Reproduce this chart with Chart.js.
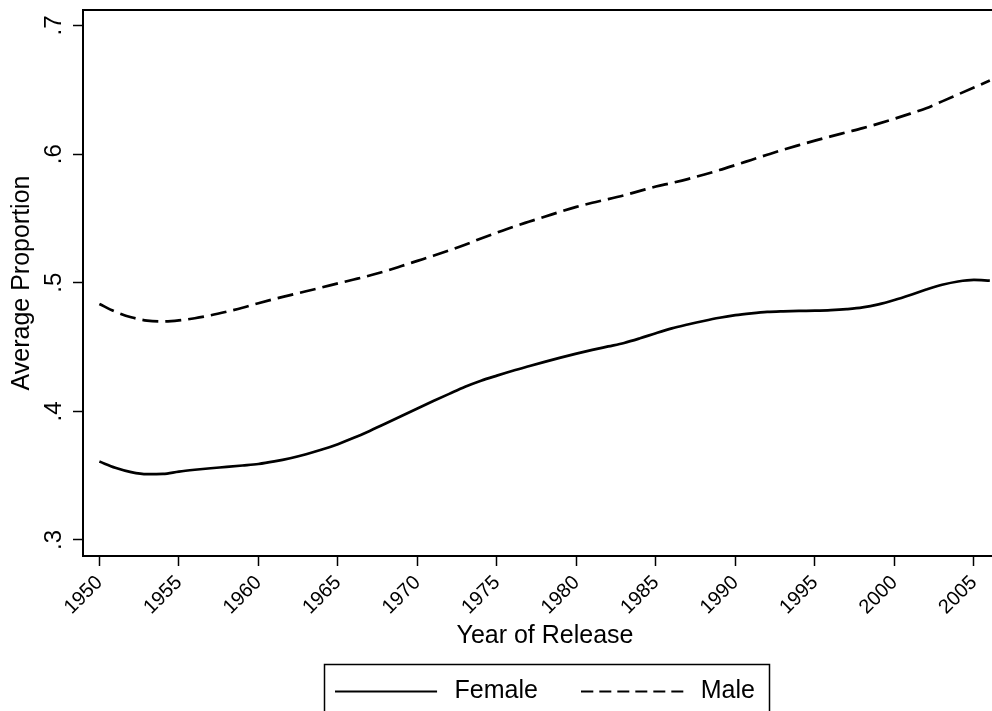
<!DOCTYPE html>
<html>
<head>
<meta charset="utf-8">
<script src="https://cdn.jsdelivr.net/npm/chart.js@4.4.1/dist/chart.umd.min.js"></script>
<style>
  html, body { margin: 0; padding: 0; background: #fff; overflow: hidden; width: 992px; height: 711px; }
  #wrap { position: absolute; left: 0; top: 0; width: 1012px; height: 740px; }
</style>
</head>
<body>
<div id="wrap"><canvas id="c" width="1012" height="740"></canvas></div>
<script>
// ---- data ----
const years = [1950,1951,1952,1953,1954,1955,1956,1957,1958,1959,
               1960,1961,1962,1963,1964,1965,1966,1967,1968,1969,
               1970,1971,1972,1973,1974,1975,1976,1977,1978,1979,
               1980,1981,1982,1983,1984,1985,1986,1987,1988,1989,
               1990,1991,1992,1993,1994,1995,1996,1997,1998,1999,
               2000,2001,2002,2003,2004,2005,2006];
const female = [0.3610,0.3562,0.3528,0.3512,0.3514,0.3532,0.3546,0.3558,0.3568,0.3579,
                0.3591,0.3611,0.3636,0.3667,0.3703,0.3745,0.3794,0.3848,0.3905,0.3964,
                0.4023,0.4080,0.4136,0.4191,0.4238,0.4278,0.4316,0.4351,0.4385,0.4418,
                0.4449,0.4478,0.4505,0.4532,0.4568,0.4608,0.4645,0.4675,0.4703,0.4728,
                0.4748,0.4762,0.4773,0.4778,0.4781,0.4783,0.4787,0.4795,0.4808,0.4832,
                0.4866,0.4905,0.4947,0.4984,0.5010,0.5022,0.5016];
const male = [0.4835,0.4775,0.4732,0.4706,0.4699,0.4707,0.4724,0.4747,0.4775,0.4806,
              0.4841,0.4874,0.4904,0.4934,0.4964,0.4995,0.5025,0.5056,0.5091,0.5130,
              0.5170,0.5210,0.5252,0.5296,0.5344,0.5390,0.5434,0.5474,0.5513,0.5553,
              0.5590,0.5622,0.5650,0.5680,0.5714,0.5748,0.5776,0.5806,0.5840,0.5876,
              0.5915,0.5955,0.5995,0.6034,0.6070,0.6105,0.6138,0.6170,0.6202,0.6237,
              0.6275,0.6315,0.6357,0.6410,0.6464,0.6518,0.6572];
const seriesNames = ['Female', 'Male'];
const xTicks = [1950,1955,1960,1965,1970,1975,1980,1985,1990,1995,2000,2005];
const yTicks = [0.3,0.4,0.5,0.6,0.7];
const xTitle = 'Year of Release';
const yTitle = 'Average Proportion';

// ---- chart ----
const FONT = "'Liberation Sans', Arial, sans-serif";
const toPts = vals => years.map((y, i) => ({x: y, y: vals[i]}));

// legend line samples (images used as legend point styles)
function sample(dash) {
  const c = document.createElement('canvas');
  c.width = 107; c.height = 6;
  const g = c.getContext('2d');
  g.strokeStyle = '#000';
  g.lineWidth = 2;
  g.setLineDash(dash);
  g.beginPath();
  g.moveTo(0, 3); g.lineTo(102, 3);
  g.stroke();
  return c;
}
const legendSamples = [sample([]), sample([12, 6])];

const framePlugin = {
  id: 'frame',
  afterDraw(chart) {
    const {ctx, chartArea: a, legend} = chart;
    ctx.save();
    ctx.strokeStyle = '#000';
    ctx.lineWidth = 2;
    ctx.beginPath();
    ctx.moveTo(a.left - 1, a.top);
    ctx.lineTo(a.right + 1, a.top);
    ctx.stroke();
    const hb = legend && legend.legendHitBoxes;
    if (hb && hb.length) {
      const first = hb[0], last = hb[hb.length - 1];
      const cy = first.top + first.height / 2;
      const l = Math.round(first.left - 11) + 0.5;
      const r = Math.round(last.left + last.width + 14) + 0.5;
      const t = Math.round(cy - 28) + 0.5;
      ctx.lineWidth = 1.5;
      ctx.beginPath();
      ctx.moveTo(l, chart.height + 5);
      ctx.lineTo(l, t);
      ctx.lineTo(r, t);
      ctx.lineTo(r, chart.height + 5);
      ctx.stroke();
    }
    ctx.restore();
  }
};

new Chart(document.getElementById('c'), {
  type: 'line',
  data: {
    datasets: [
      { label: seriesNames[0], data: toPts(female), borderColor: '#000', backgroundColor: '#000',
        borderWidth: 2.7, pointRadius: 0, cubicInterpolationMode: 'monotone', fill: false },
      { label: seriesNames[1], data: toPts(male), borderColor: '#000', backgroundColor: '#000',
        borderWidth: 2.7, borderDash: [16, 7], pointRadius: 0, cubicInterpolationMode: 'monotone', fill: false }
    ]
  },
  options: {
    responsive: false,
    devicePixelRatio: 1,
    animation: false,
    layout: { padding: { left: 0, top: 10, right: 5, bottom: 26 } },
    plugins: {
      tooltip: { enabled: false },
      legend: {
        position: 'bottom',
        fullSize: false,
        labels: {
          color: '#000',
          font: { family: FONT, size: 25 },
          usePointStyle: true,
          pointStyleWidth: 107,
          padding: 43.4,
          generateLabels(chart) {
            const items = Chart.defaults.plugins.legend.labels.generateLabels(chart);
            items.forEach((it, i) => { it.pointStyle = legendSamples[i]; });
            return items;
          }
        }
      }
    },
    scales: {
      x: {
        type: 'linear',
        min: 1948.97,
        max: 2007.08,
        afterBuildTicks: s => { s.ticks = xTicks.map(v => ({value: v})); },
        afterFit: s => { s.height = 79.6; s.paddingLeft = 0; s.paddingRight = 0; },
        ticks: {
          autoSkip: false,
          minRotation: 45, maxRotation: 45,
          padding: 5,
          color: '#000',
          font: { family: FONT, size: 20 },
          callback: v => String(v)
        },
        grid: { display: true, drawOnChartArea: false, drawTicks: true, tickLength: 10, tickWidth: 1.5, tickColor: '#000' },
        border: { display: true, color: '#000', width: 2 },
        title: { display: true, text: xTitle, color: '#000', font: { family: FONT, size: 25 }, padding: { top: 0, bottom: -15.1 } }
      },
      y: {
        type: 'linear',
        min: 0.28756,
        max: 0.71205,
        afterBuildTicks: s => { s.ticks = yTicks.map(v => ({value: v})); },
        afterFit: s => { s.width = 83; s.paddingTop = 0; s.paddingBottom = 0; },
        ticks: {
          minRotation: 90, maxRotation: 90,
          crossAlign: 'center',
          padding: 8.4,
          color: '#000',
          font: { family: FONT, size: 24 },
          callback: v => String(v).replace(/^0/, '')
        },
        grid: { display: true, drawOnChartArea: false, drawTicks: true, tickLength: 10, tickWidth: 1.5, tickColor: '#000' },
        border: { display: true, color: '#000', width: 2 },
        title: { display: true, text: yTitle, color: '#000', font: { family: FONT, size: 25 }, padding: { top: 7, bottom: 0 } }
      }
    }
  },
  plugins: [framePlugin]
});
</script>
</body>
</html>
